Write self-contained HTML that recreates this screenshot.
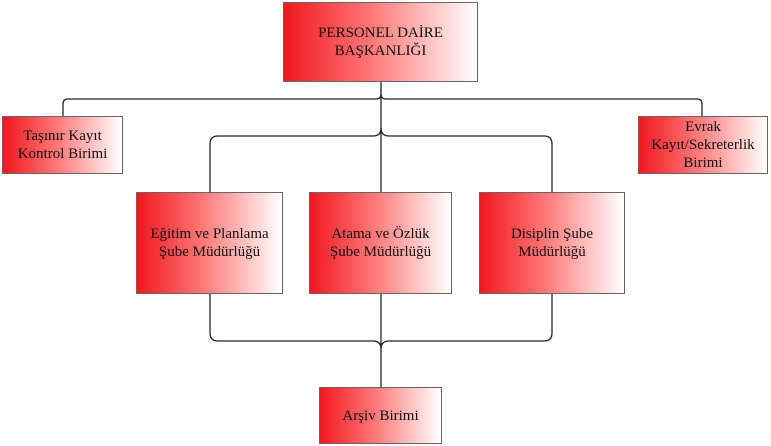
<!DOCTYPE html>
<html><head><meta charset="utf-8"><style>
body{margin:0;width:771px;height:446px;background:#fff;position:relative;overflow:hidden;}
.b{position:absolute;box-sizing:border-box;border:1.5px solid #666;background:linear-gradient(to right,#f01820,#f77 45%,#fff);display:flex;align-items:center;justify-content:center;text-align:center;font-family:"Liberation Serif","Times New Roman","DejaVu Serif",serif;font-size:15px;line-height:18px;color:#111;}
svg{position:absolute;left:0;top:0;}
</style></head><body>
<svg width="771" height="446" fill="none" stroke="#222" stroke-width="1.3">
<path d="M381 82V387"/>
<path d="M63 116V104q0-5 5-5H376q5 0 5-5q0 5 5 5H697q5 0 5 5V116"/>
<path d="M210 192V144q0-8 8-8H373q8 0 8-8q0 8 8 8H544q8 0 8 8V192"/>
<path d="M210 294V333q0 8 8 8H373q8 0 8 8q0-8 8-8H544q8 0 8-8V294"/>
</svg>
<div class="b" style="left:283px;top:2px;width:195px;height:80px;">PERSONEL DAİRE<br>BAŞKANLIĞI</div>
<div class="b" style="left:2px;top:116px;width:121px;height:58px;">Taşınır Kayıt<br>Kontrol Birimi</div>
<div class="b" style="left:638px;top:116px;width:130px;height:58px;">Evrak<br>Kayıt/Sekreterlik<br>Birimi</div>
<div class="b" style="left:136px;top:192px;width:147px;height:102px;">Eğitim ve Planlama<br>Şube Müdürlüğü</div>
<div class="b" style="left:309px;top:192px;width:143px;height:102px;">Atama ve Özlük<br>Şube Müdürlüğü</div>
<div class="b" style="left:479px;top:192px;width:146px;height:102px;">Disiplin Şube<br>Müdürlüğü</div>
<div class="b" style="left:319px;top:387px;width:123px;height:57px;">Arşiv Birimi</div>
</body></html>
